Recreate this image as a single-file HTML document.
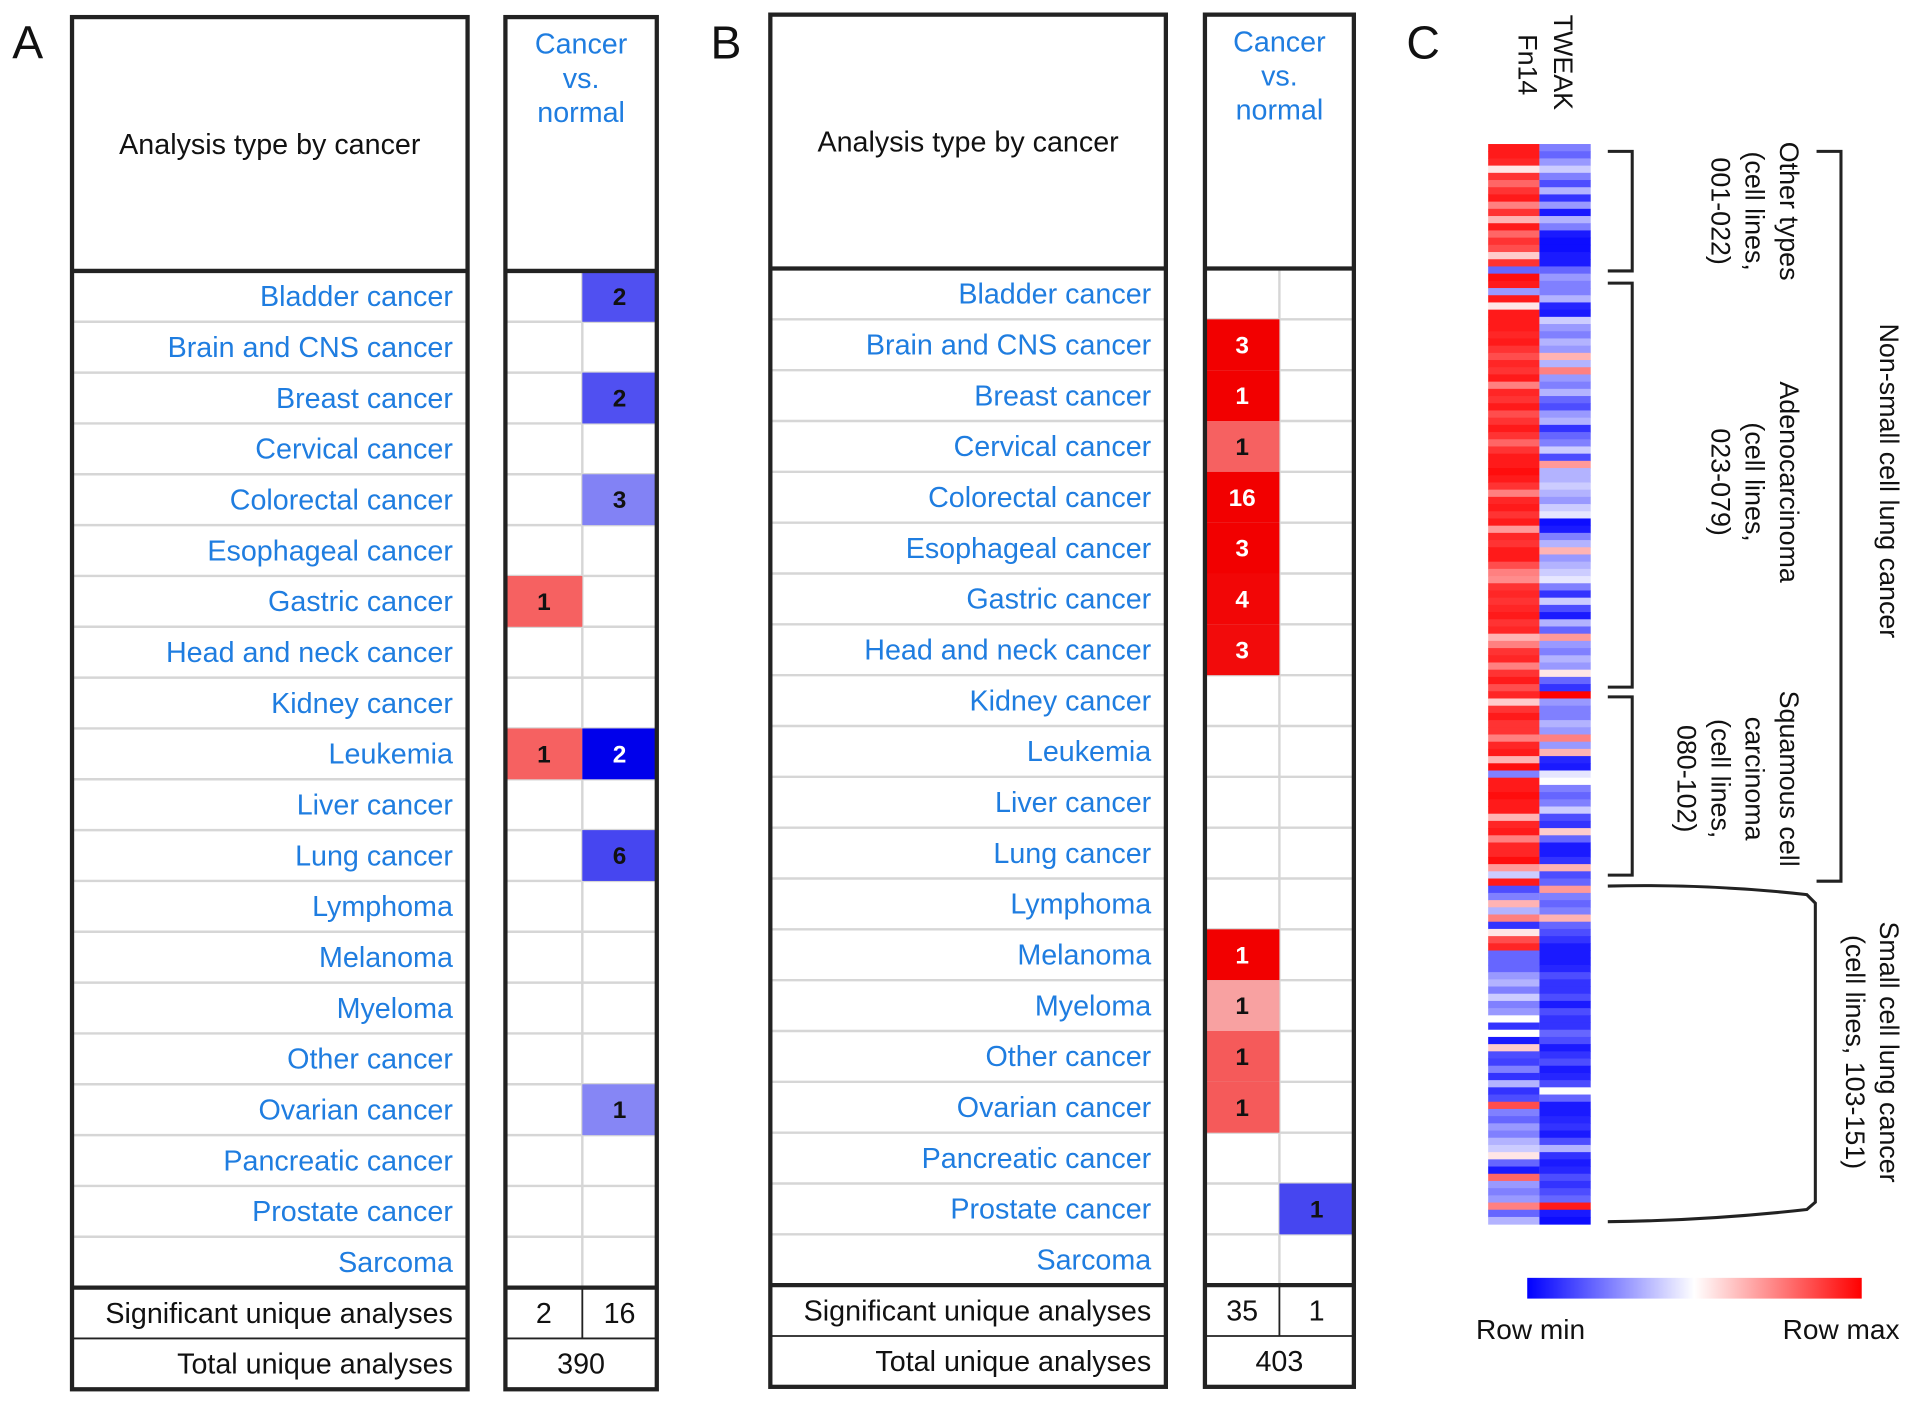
<!DOCTYPE html>
<html><head><meta charset="utf-8"><style>
html,body{margin:0;padding:0;background:#fff}
svg{display:block}
text{font-family:"Liberation Sans",Arial,sans-serif}
</style></head><body>
<svg id="fig" width="1913" height="1406" viewBox="0 0 1567 1152" preserveAspectRatio="none" xmlns="http://www.w3.org/2000/svg">
<g id="panels"></g>
</svg>
<script>
const cancers=["Bladder cancer","Brain and CNS cancer","Breast cancer","Cervical cancer","Colorectal cancer","Esophageal cancer","Gastric cancer","Head and neck cancer","Kidney cancer","Leukemia","Liver cancer","Lung cancer","Lymphoma","Melanoma","Myeloma","Other cancer","Ovarian cancer","Pancreatic cancer","Prostate cancer","Sarcoma"];
// panel A: up counts, up intensity; down counts, down intensity
const aUp=[0,0,0,0,0,0,1,0,0,1,0,0,0,0,0,0,0,0,0,0];
const aUpLvl=[0,0,0,0,0,0,0.55,0,0,0.55,0,0,0,0,0,0,0,0,0,0];
const aDown=[2,0,2,0,3,0,0,0,0,2,0,6,0,0,0,0,1,0,0,0];
const aDownLvl=[0.6,0,0.6,0,0.35,0,0,0,0,1,0,0.65,0,0,0,0,0.33,0,0,0];
const aTotals=["2","16","390"];
const bUp=[0,3,1,1,16,3,4,3,0,0,0,0,0,1,1,1,1,0,0,0];
const bUpLvl=[0,1,1,0.55,1,1,0.97,0.95,0,0,0,0,0,1,0.25,0.58,0.58,0,0,0];
const bDown=[0,0,0,0,0,0,0,0,0,0,0,0,0,0,0,0,0,0,1,0];
const bDownLvl=[0,0,0,0,0,0,0,0,0,0,0,0,0,0,0,0,0,0,0.65,0];
const bTotals=["35","1","403"];
// heatmap values (-1 = row min, 1 = row max)
const fn14=[.9,.9,.85,.1,.8,.6,.8,.9,.5,.8,.3,.9,.6,.8,.7,.2,.8,-.6,.95,.9,-.4,.9,
.1,.9,.9,.9,.85,.9,.8,.7,.85,.8,.9,.5,.85,.8,.9,.7,.8,.9,.8,.6,.8,.9,.9,.95,.9,.8,.5,.85,.9,.8,.9,.4,.85,.8,.9,.9,.7,.5,.45,.8,.85,.8,.85,.9,.8,.85,.3,.5,.8,.85,.5,.8,.9,.7,.85,.2,.8,
.9,.8,.8,.5,.85,.9,.3,.95,-.5,.9,.9,.95,.9,.9,.3,.85,.9,.5,.85,.85,.95,.4,
-.2,.9,-.7,-.5,.3,-.3,.5,-.8,.1,.7,.85,-.6,-.6,-.6,-.4,-.3,-.5,-.2,-.5,-.4,0,-.8,0,-.9,.2,-.7,-.75,-.5,-.8,-.3,-.8,-.7,.7,-.5,-.6,-.4,-.5,-.3,-.2,.1,-.6,-.9,.6,-.4,-.5,-.4,.5,-.6,-.3];
const tweak=[-.5,-.6,-.4,-.2,-.5,-.7,-.3,-.8,-.4,-.9,-.3,-.5,-.9,-.95,-.95,-.9,-.9,-.6,-.4,-.5,-.5,-.3,
-.85,-.9,-.2,-.4,-.5,-.3,-.4,.3,-.3,.5,-.4,-.5,-.3,-.6,-.7,-.4,-.3,-.8,-.6,-.5,-.2,-.7,.4,-.3,-.3,-.2,-.3,-.4,-.2,-.1,-.95,-.9,-.5,-.3,.3,-.4,-.3,-.2,-.1,-.5,-.8,-.2,-.7,-.9,-.3,-.6,.4,-.4,-.5,-.3,-.4,.1,-.6,-.8,1,-.4,-.5,
-.5,-.3,-.4,.5,-.4,.3,-.85,-.9,-.1,0,-.5,-.6,-.5,-.2,-.7,-.8,.2,-.6,-.9,-.9,-.8,.3,
-.7,-.6,.4,-.5,-.6,-.5,.3,-.6,-.7,-.8,-.9,-.9,-.9,-.85,-.7,-.8,-.8,-.7,-.9,-.7,-.8,-.8,-.6,-.7,-.9,-.8,-.7,-.9,-.85,-.7,0,-.6,-.9,-.9,-.85,-.8,-.9,-.7,-.3,-.8,-.9,-.85,-.7,-.8,-.7,-.6,.9,-.9,-.95];

const NS="http://www.w3.org/2000/svg";
const root=document.getElementById('panels');
function mk(tag,attrs,parent,txt){const e=document.createElementNS(NS,tag);for(const k in attrs)e.setAttribute(k,attrs[k]);if(txt!==undefined)e.textContent=txt;(parent||root).appendChild(e);return e;}
function red(l){const t=l;return `rgb(${Math.round(250-8*t)},${Math.round(215-215*t)},${Math.round(215-215*t)})`;}
function blue(l){return `rgb(${Math.round(200-200*l)},${Math.round(200-200*l)},${Math.round(250-15*l)})`;}
function heat(v){if(v>=0){return `rgb(255,${Math.round(255-255*v)},${Math.round(255-255*v)})`;}const t=-v;return `rgb(${Math.round(255-255*t)},${Math.round(255-255*t)},255)`;}
const FS=23.5;
function panel(id,L,R,split,top,hb,rowsEnd,up,upL,down,downL,tot){
  const g=mk('g',{});
  
  
  const rh=(rowsEnd-hb)/cancers.length;
  const end=rowsEnd+rh*2;
  for(let i=1;i<cancers.length;i++){const y=hb+i*rh;mk('line',{x1:L[0],x2:L[1],y1:y,y2:y,stroke:'#d6d6d6','stroke-width':2},g);mk('line',{x1:R[0],x2:R[1],y1:y,y2:y,stroke:'#d6d6d6','stroke-width':2},g);}
  mk('line',{x1:split,x2:split,y1:hb,y2:rowsEnd,stroke:'#d6d6d6','stroke-width':2},g);
  cancers.forEach((c,i)=>{
    const y=hb+i*rh;
    const t=mk('text',{x:L[1]-12,y:y+rh/2+8,'text-anchor':'end','font-size':FS,fill:'#1f7de0'},g,c);
    
    
    if(up[i]>0){const r=mk('rect',{x:R[0],y:y,width:split-R[0],height:rh,fill:red(upL[i])},g);
      
      
      mk('text',{x:(R[0]+split)/2,y:y+rh/2+7,'text-anchor':'middle','font-size':20,'font-weight':'bold',fill:upL[i]>0.8?'#fff':'#111'},g,up[i]);}
    if(down[i]>0){const r=mk('rect',{x:split,y:y,width:R[1]-split,height:rh,fill:blue(downL[i])},g);
      
      
      mk('text',{x:(R[1]+split)/2,y:y+rh/2+7,'text-anchor':'middle','font-size':20,'font-weight':'bold',fill:downL[i]>0.9?'#fff':'#111'},g,down[i]);}
  });
  [L,R].forEach(b=>{mk('rect',{x:b[0],y:top,width:b[1]-b[0],height:end-top,fill:'none',stroke:'#222','stroke-width':3.5},g);
    mk('line',{x1:b[0],x2:b[1],y1:hb,y2:hb,stroke:'#222','stroke-width':3.5},g);
    mk('line',{x1:b[0],x2:b[1],y1:rowsEnd,y2:rowsEnd,stroke:'#222','stroke-width':3.5},g);
    mk('line',{x1:b[0],x2:b[1],y1:rowsEnd+rh,y2:rowsEnd+rh,stroke:'#222','stroke-width':1.5},g);});
  mk('line',{x1:split,x2:split,y1:rowsEnd,y2:rowsEnd+rh,stroke:'#222','stroke-width':1.5},g);
  const h=mk('text',{x:(L[0]+L[1])/2,y:(top+hb)/2+8,'text-anchor':'middle','font-size':FS,fill:'#111'},g,'Analysis type by cancer');
  
  
  ['Cancer','vs.','normal'].forEach((w,k)=>mk('text',{x:(R[0]+R[1])/2,y:top+30+k*28,'text-anchor':'middle','font-size':FS,fill:'#1f7de0'},g,w));
  mk('text',{x:L[1]-12,y:rowsEnd+rh/2+8,'text-anchor':'end','font-size':FS,fill:'#111'},g,'Significant unique analyses');
  mk('text',{x:L[1]-12,y:rowsEnd+rh*1.5+8,'text-anchor':'end','font-size':FS,fill:'#111'},g,'Total unique analyses');
  mk('text',{x:(R[0]+split)/2,y:rowsEnd+rh/2+8,'text-anchor':'middle','font-size':FS,fill:'#111'},g,tot[0]);
  mk('text',{x:(R[1]+split)/2,y:rowsEnd+rh/2+8,'text-anchor':'middle','font-size':FS,fill:'#111'},g,tot[1]);
  mk('text',{x:(R[0]+R[1])/2,y:rowsEnd+rh*1.5+8,'text-anchor':'middle','font-size':FS,fill:'#111'},g,tot[2]);
}
panel('a',[59,383],[414,538],477,14,222,1055,aUp,aUpLvl,aDown,aDownLvl,aTotals);
panel('b',[631,955],[987,1109],1048,12,220,1053,bUp,bUpLvl,bDown,bDownLvl,bTotals);
mk('text',{x:10,y:48,'font-size':38,fill:'#111'},root,'A');
mk('text',{x:582,y:48,'font-size':38,fill:'#111'},root,'B');
mk('text',{x:1152,y:48,'font-size':38,fill:'#111'},root,'C');

const hm=mk('g',{});


const hTop=118,hBot=1003,n=fn14.length,hr=(hBot-hTop)/n;
[fn14,tweak].forEach((arr,c)=>{const x=1219+c*42;arr.forEach((v,i)=>{
  const r=mk('rect',{x:x,y:hTop+i*hr,width:42,height:hr+0.4,fill:heat(v)},hm);
  
  });});
function vtext(x,y,s,size,anchor){return mk('text',{x:0,y:0,transform:`translate(${x},${y}) rotate(90)`,'font-size':size||22,'text-anchor':anchor||'middle',fill:'#111'},root,s);}
vtext(1273,12,'TWEAK',22,'start');
vtext(1244,28,'Fn14',22,'start');
const br='#222';
function bracket(x1,x2,y1,y2){mk('path',{d:`M${x1} ${y1} L${x2} ${y1} L${x2} ${y2} L${x1} ${y2}`,fill:'none',stroke:br,'stroke-width':2.5});}
bracket(1317,1337,124,222);
bracket(1317,1337,232,563);
bracket(1317,1337,571,717);
bracket(1488,1508,124,722);
mk('path',{d:'M1317 726 Q1400 724 1480 733 L1487 740 L1487 985 L1480 991 Q1400 1000 1317 1001',fill:'none',stroke:br,'stroke-width':2.5});
[['Other types',1458],['(cell lines,',1430],['001-022)',1402]].forEach(a=>vtext(a[1],173,a[0]));
[['Adenocarcinoma',1458],['(cell lines,',1430],['023-079)',1402]].forEach(a=>vtext(a[1],395,a[0]));
[['Squamous cell',1458],['carcinoma',1430],['(cell lines,',1402],['080-102)',1374]].forEach(a=>vtext(a[1],638,a[0]));
vtext(1540,394,'Non-small cell lung cancer');
vtext(1540,862,'Small cell lung cancer');
vtext(1512,862,'(cell lines, 103-151)');
const defs=mk('defs',{});
const lg=mk('linearGradient',{id:'cb',x1:0,x2:1,y1:0,y2:0},defs);
mk('stop',{offset:'0','stop-color':'#0000ff'},lg);mk('stop',{offset:'0.5','stop-color':'#ffffff'},lg);mk('stop',{offset:'1','stop-color':'#ff0000'},lg);
const cb=mk('rect',{x:1251,y:1047,width:274,height:17,fill:'url(#cb)'});


mk('text',{x:1209,y:1097,'font-size':23,fill:'#111'},root,'Row min');
mk('text',{x:1556,y:1097,'font-size':23,'text-anchor':'end',fill:'#111'},root,'Row max');
</script>
</body></html>
